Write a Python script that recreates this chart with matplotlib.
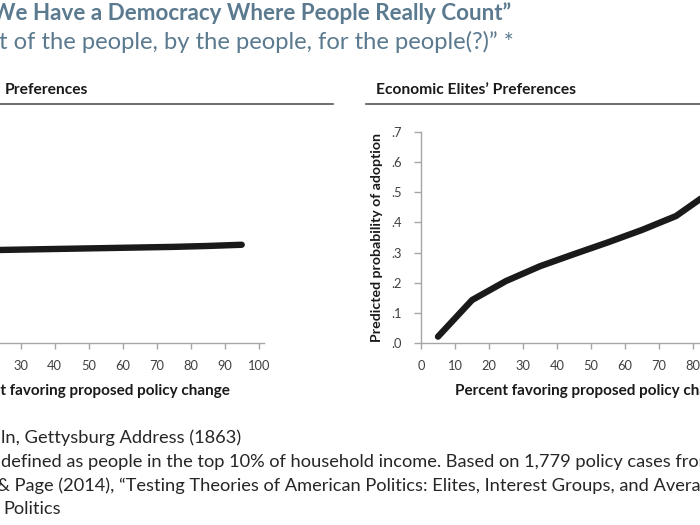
import matplotlib
matplotlib.use('Agg')
import matplotlib.pyplot as plt
from matplotlib.lines import Line2D

# ---------------- data ----------------
pct_favoring = [5, 15, 25, 35, 45, 55, 65, 75, 85, 95]
avg_citizens = [0.305, 0.307, 0.309, 0.311, 0.313, 0.315, 0.317, 0.319, 0.322, 0.326]
econ_elites = [0.022, 0.143, 0.206, 0.255, 0.295, 0.334, 0.375, 0.421, 0.50, 0.58]
x_ticks = [0, 10, 20, 30, 40, 50, 60, 70, 80, 90, 100]
y_ticks = [0.0, 0.1, 0.2, 0.3, 0.4, 0.5, 0.6, 0.7]
y_tick_labels = ['.0', '.1', '.2', '.3', '.4', '.5', '.6', '.7']

title = "We Have a Democracy Where People Really Count\u201d"
subtitle = "t of the people, by the people, for the people(?)\u201d *"
left_header = "Preferences"
right_header = "Economic Elites\u2019 Preferences"
x_label = "Percent favoring proposed policy change"
y_label = "Predicted probability of adoption"
footnotes = [
    "ln, Gettysburg Address (1863)",
    "defined as people in the top 10% of household income. Based on 1,779 policy cases from 1981-2002.",
    "& Page (2014), \u201cTesting Theories of American Politics: Elites, Interest Groups, and Average Citizens,\u201d",
    "Politics",
]

# ---------------- layout ----------------
W, H = 700, 525
plt.rcParams['font.family'] = ['Lato', 'DejaVu Sans']
fig = plt.figure(figsize=(7, 5.25), dpi=100)
renderer = fig.canvas.get_renderer()


def fx(px):
    return px / W


def fy(py):
    return 1 - py / H


def fit_fontsize(s, target_w, **kw):
    t = fig.text(0, 0, s, fontsize=20, **kw)
    bb = t.get_window_extent(renderer)
    t.remove()
    return 20 * target_w / bb.width


TITLE_C = '#5b7a8f'
AX_C = '#a6a6a6'
TICK_C = '#404040'

# titles
fs_t = fit_fontsize(title, 518, weight='bold')
fig.text(fx(-8), fy(13), title, fontsize=fs_t, weight='bold', color=TITLE_C, va='center', ha='left')
fs_s = fit_fontsize(subtitle, 516)
fig.text(fx(-1), fy(42), subtitle, fontsize=fs_s, color=TITLE_C, va='center', ha='left')

# panel headers
fs_h = fit_fontsize(right_header, 201, weight='bold')
fig.text(fx(5), fy(90), left_header, fontsize=fs_h, weight='bold', color='#1a1a1a', va='center', ha='left')
fig.text(fx(376), fy(90), right_header, fontsize=fs_h, weight='bold', color='#1a1a1a', va='center', ha='left')
fig.add_artist(Line2D([fx(0), fx(333)], [fy(104), fy(104)], color='#555555', lw=1.2))
fig.add_artist(Line2D([fx(366), fx(700)], [fy(104), fy(104)], color='#555555', lw=1.2))

# axes geometry: x 0 -> px, 10 units = 34 px ; y .0 at 343.3, .7 at 131.7
XMAX = 101.5
ax_w = XMAX * 3.4
y0, y7 = 343.3, 131.7
fs_tick = fit_fontsize("100", 22.5)
fs_xl = fit_fontsize(x_label, 278, weight='bold')
fs_yl = fit_fontsize(y_label, 208, weight='bold')


def make_axes(x0_px, series, show_y=True):
    ax = fig.add_axes([fx(x0_px), fy(y0), ax_w / W, (y0 - y7) / H])
    ax.plot(pct_favoring, series, color='#1a1a1a', lw=4.6, solid_capstyle='round', solid_joinstyle='round')
    ax.set_xlim(0, XMAX)
    ax.set_ylim(0, 0.7)
    for side in ['top', 'right']:
        ax.spines[side].set_visible(False)
    for side in ['left', 'bottom']:
        ax.spines[side].set_color(AX_C)
        ax.spines[side].set_linewidth(1.0)
    ax.set_xticks(x_ticks)
    ax.set_xticklabels([str(v) for v in x_ticks])
    ax.set_yticks(y_ticks)
    ax.set_yticklabels(y_tick_labels if show_y else [''] * len(y_ticks))
    ax.tick_params(axis='x', direction='out', length=4, width=1, color=AX_C,
                   labelsize=fs_tick, labelcolor=TICK_C, pad=8)
    ax.tick_params(axis='y', direction='out', length=5, width=1, color=AX_C,
                   labelsize=fs_tick, labelcolor=TICK_C, pad=9)
    ax.set_xlabel(x_label, fontsize=fs_xl, weight='bold', color='#1a1a1a', labelpad=9)
    if show_y:
        ax.set_ylabel(y_label, fontsize=fs_yl, weight='bold', color='#1a1a1a', labelpad=6)
    ax.patch.set_alpha(0)
    return ax


ax_left = make_axes(-81.3, avg_citizens, show_y=False)
ax_right = make_axes(421, econ_elites)

# hide tick labels lying entirely outside the canvas (they are not visible in the crop)
fig.canvas.draw()
for ax in (ax_left, ax_right):
    for lab in ax.get_xticklabels():
        bb = lab.get_window_extent(renderer)
        if bb.x1 <= 0 or bb.x0 >= W:
            lab.set_visible(False)

# footnotes
fs_f = fit_fontsize("defined as people in the top 10% of household income. Based on 1,779 policy cases fro", 699)
foot_x = [1, 1, -3, 3]
foot_y = [438, 462, 486, 509]
for s, xx, yy in zip(footnotes, foot_x, foot_y):
    fig.text(fx(xx), fy(yy), s, fontsize=fs_f, color='#262626', va='center', ha='left')

fig.savefig('out.png', dpi=100)
